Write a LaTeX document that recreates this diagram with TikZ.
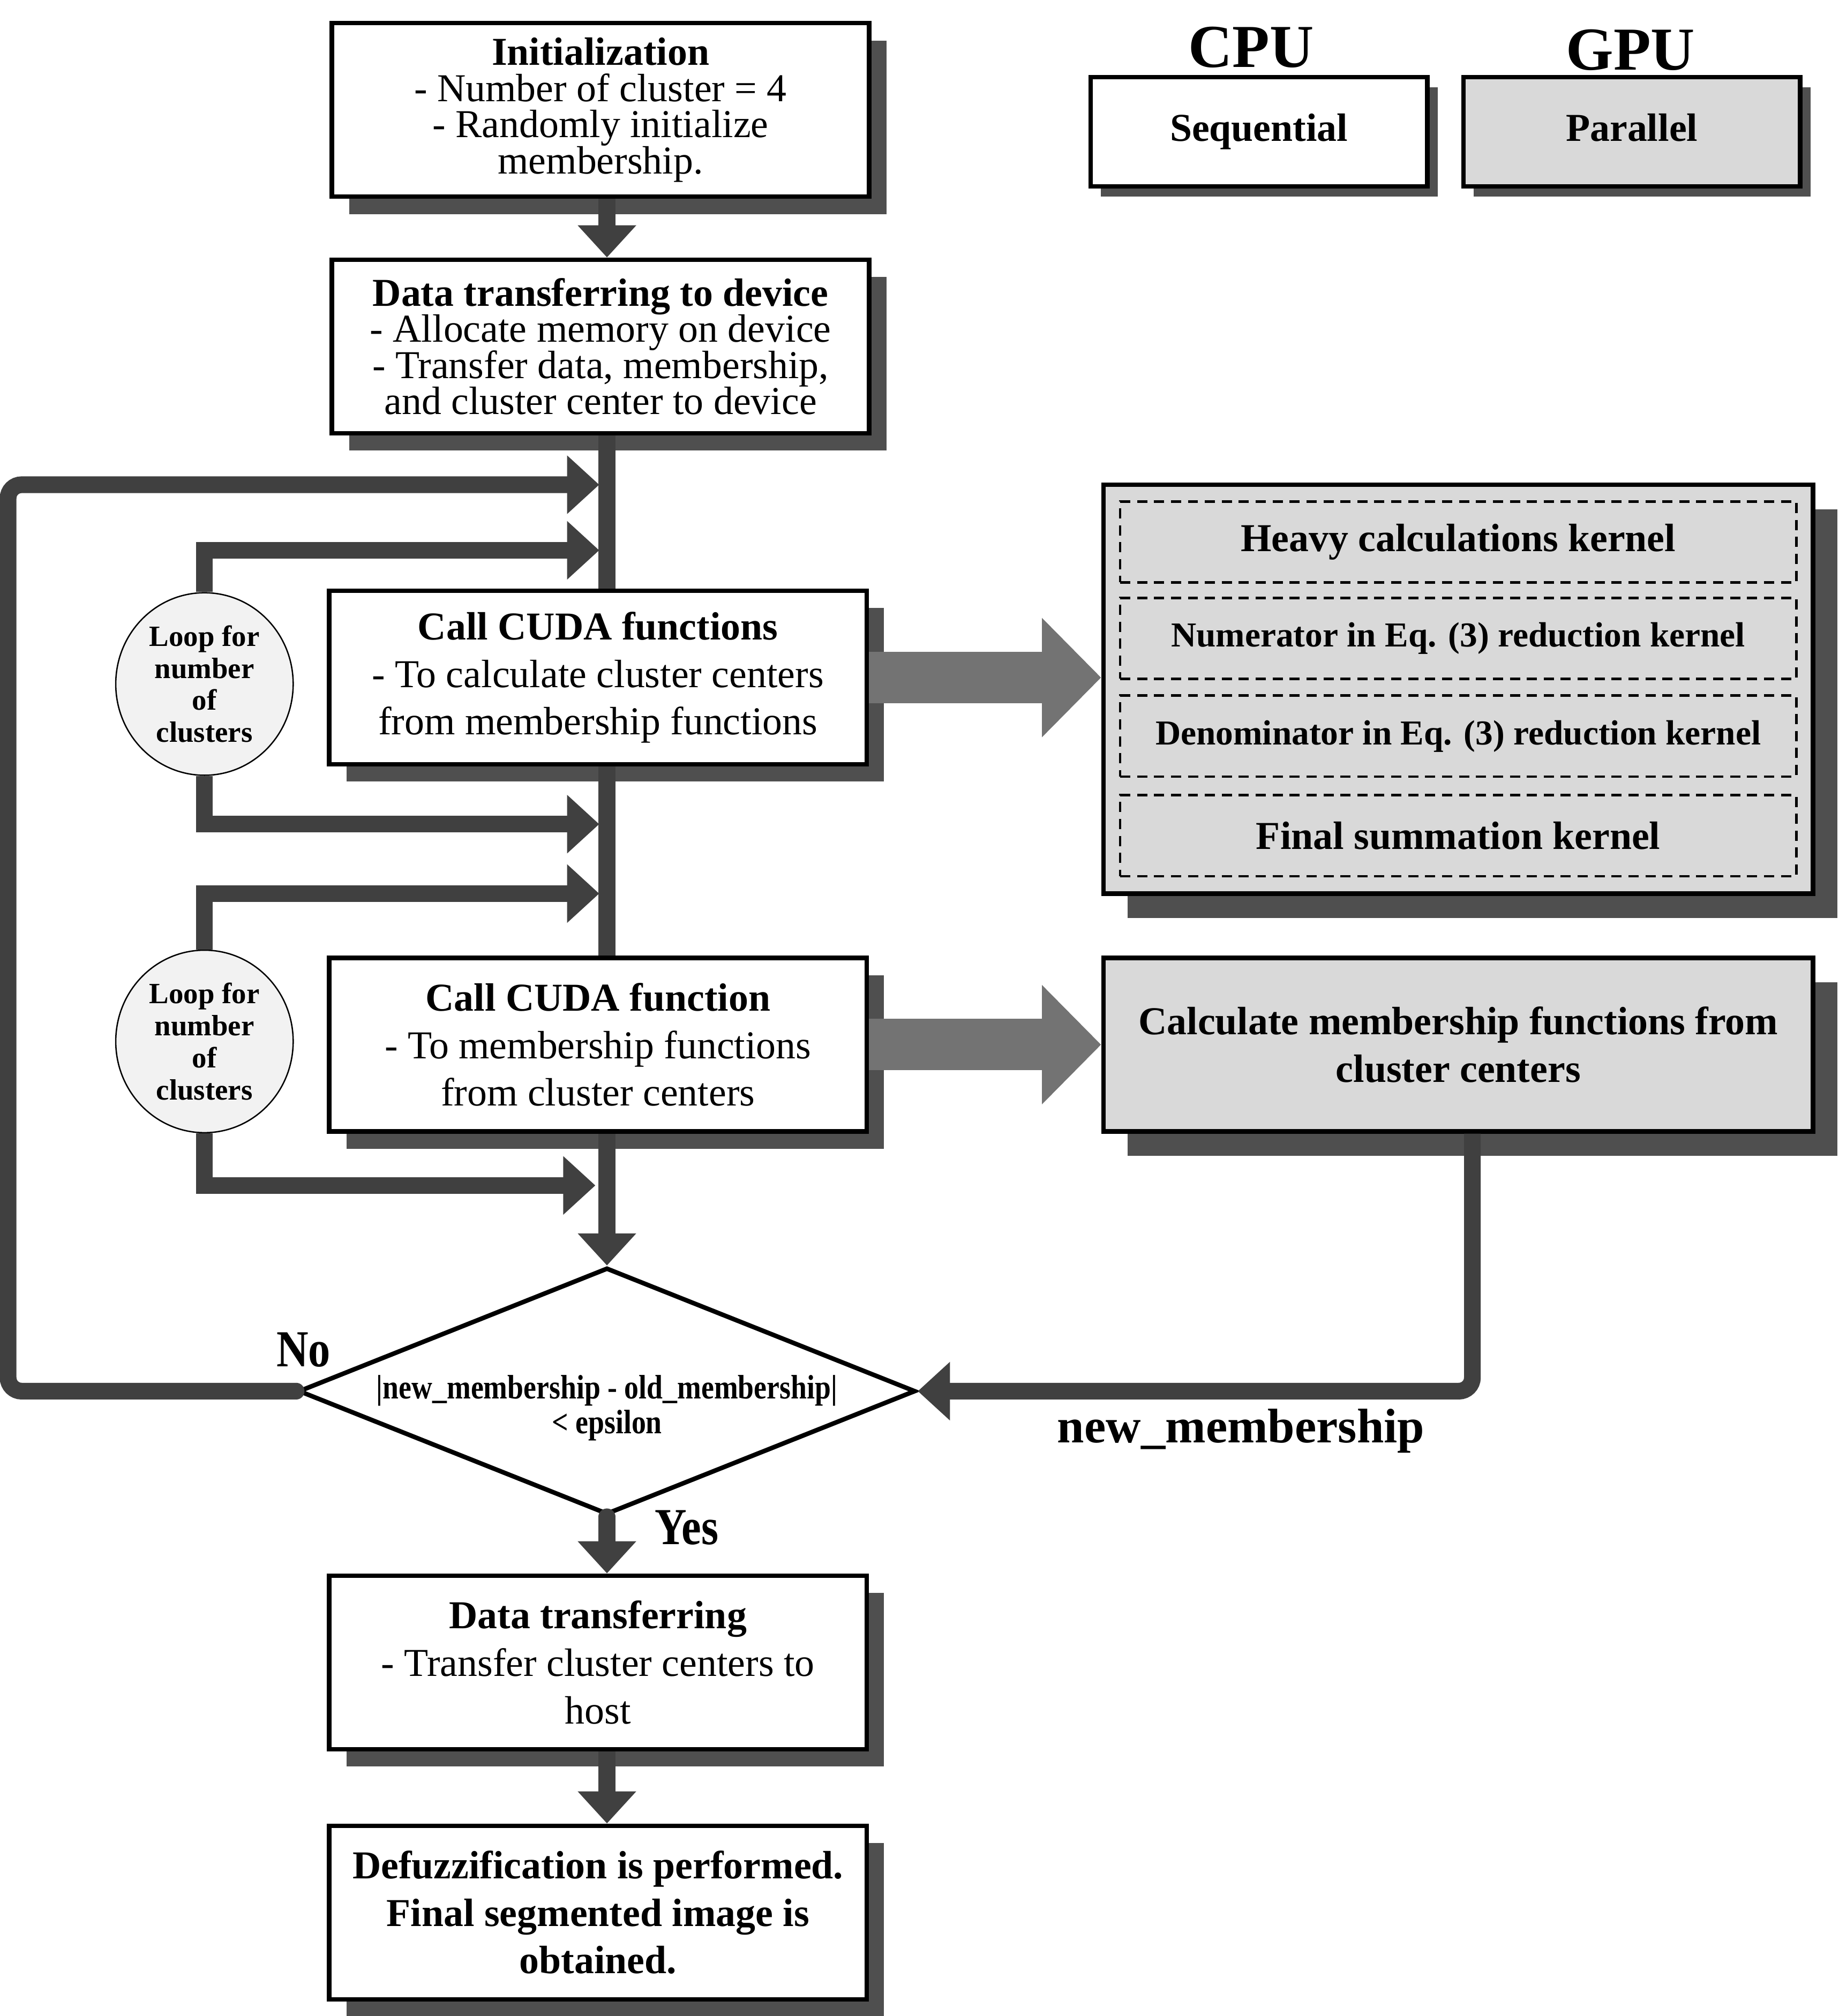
\documentclass[tikz,border=0pt]{standalone}
\usepackage{fontspec}
\setmainfont{Liberation Serif}
\newfontfamily\narrowserif[FakeStretch=0.85]{Liberation Serif}
\newcommand{\tightlines}{\lineskiplimit=-20pt\relax}
\usetikzlibrary{arrows.meta,shapes.geometric,shadows}

\begin{document}
\begin{tikzpicture}[x=0.02cm,y=-0.02cm,
    fcmShadow/.style={drop shadow={shadow xshift=#1,shadow yshift=-#1,fill=black!69,opacity=1}},
    fcmBox/.style={rectangle,draw=black,line width=2pt,fill=white,minimum width=8.36cm,minimum height=2.7cm,inner sep=0pt,align=center,font=\fontsize{17.5}{21}\selectfont},
    fcmStep/.style={fcmBox,fcmShadow=0.27cm},
    fcmTight/.style={font=\fontsize{17.5}{16}\selectfont\tightlines},
    fcmGpu/.style={fcmBox,fill=black!15,minimum width=11.04cm,font=\fontsize{17.5}{21}\selectfont\bfseries,fcmShadow=0.38cm},
    fcmLegend/.style={fcmBox,minimum width=5.24cm,minimum height=1.7cm,font=\fontsize{17.5}{21}\selectfont\bfseries,fcmShadow=0.16cm},
    fcmKernel/.style={rectangle,draw=black,dash pattern=on 4.5pt off 3pt,line width=1.1pt,minimum width=10.52cm,minimum height=1.26cm,inner sep=0pt,font=\fontsize{15.5}{18}\selectfont\bfseries},
    fcmLoop/.style={ellipse,draw=black,line width=0.6pt,fill=black!5,minimum width=2.76cm,minimum height=2.84cm,inner sep=0pt,align=center,font=\fontsize{13}{14.2}\selectfont\bfseries},
    fcmDecision/.style={diamond,draw=black,line width=2pt,fill=white,minimum width=9.6cm,minimum height=3.84cm,inner sep=0pt},
    fcmLine/.style={draw=black!75,line width=0.26cm},
    fcmLink/.style={fcmLine,-{Triangle[width=0.88cm,length=0.5cm]}},
    fcmBig/.style={draw=black!55,line width=0.8cm,-{Triangle[width=1.8cm,length=0.92cm]}},
    fcmTag/.style={font=\narrowserif\fontsize{23}{25}\selectfont\bfseries},
]
\useasboundingbox (0,0) rectangle (1430,1568);

% legend
\node[font=\fontsize{27}{30}\selectfont\bfseries] (cpuTitle) at (973,37) {CPU};
\node[font=\fontsize{27}{30}\selectfont\bfseries] (gpuTitle) at (1268,39) {GPU};
\node[fcmLegend] (seq) at (979,102.5) {\strut Sequential};
\node[fcmLegend,fill=black!15] (par) at (1269,102.5) {\strut Parallel};

% main flow (CPU)
\node[fcmStep,fcmTight] (init) at (467,85.5) {\textbf{Initialization}\\- Number of cluster = 4\\- Randomly initialize\\membership.};
\node[fcmStep,fcmTight] (xfer) at (467,269.5) {\textbf{Data transferring to device}\\- Allocate memory on device\\- Transfer data, membership,\\and cluster center to device};
\node[fcmStep] (cudaC) at (465,527) {\textbf{Call CUDA functions}\\- To calculate cluster centers\\from membership functions};
\node[fcmStep] (cudaU) at (465,812.5) {\textbf{Call CUDA function}\\- To membership functions\\from cluster centers};
\node[fcmDecision] (cond) at (472,1082) {};
\node[font=\narrowserif\fontsize{15}{15.5}\selectfont\bfseries,align=center] (condText) at (472,1095) {|new\_membership - old\_membership|\\< epsilon};
\node[fcmStep] (back) at (465,1293) {\textbf{Data transferring}\\- Transfer cluster centers to\\host};
\node[fcmStep,font=\fontsize{17.5}{21}\selectfont\bfseries] (defuzz) at (465,1487.5) {Defuzzification is performed.\\Final segmented image is\\obtained.};

% loops
\node[fcmLoop] (loopC) at (159,532) {Loop for\\number\\of\\clusters};
\node[fcmLoop] (loopU) at (159,810) {Loop for\\number\\of\\clusters};

% GPU side
\node[fcmGpu,minimum height=6.36cm] (kernels) at (1134,536) {};
\node[fcmKernel,font=\fontsize{17.5}{21}\selectfont\bfseries] (kHeavy) at (1134,421.5) {Heavy calculations kernel};
\node[fcmKernel] (kNum) at (1134,496.5) {Numerator in Eq. (3) reduction kernel};
\node[fcmKernel] (kDen) at (1134,572.5) {Denominator in Eq. (3) reduction kernel};
\node[fcmKernel,font=\fontsize{17.5}{21}\selectfont\bfseries] (kSum) at (1134,650) {Final summation kernel};
\node[fcmGpu] (calcM) at (1134,812.5) {Calculate membership functions from\\cluster centers};

% entry points on the spine
\coordinate (inA) at (466,377);
\coordinate (inB) at (466,428);
\coordinate (inC) at (466,641);
\coordinate (inD) at (466,695);
\coordinate (inE) at (463,922);

% connectors
\draw[fcmLink] (init.south -| cond.north) -- (xfer.north -| cond.north);
\draw[fcmLine] (xfer.south -| cond.north) -- (cudaC.north -| cond.north);
\draw[fcmLine] (cudaC.south -| cond.north) -- (cudaU.north -| cond.north);
\draw[fcmLink] (cudaU.south -| cond.north) -- (cond.north);
\draw[fcmLink,line cap=round] (cond.south) -- (cond.south |- back.north);
\draw[fcmLink] (back.south -| cond.north) -- (defuzz.north -| cond.north);
\draw[fcmLink,line cap=round,rounded corners=6pt] (cond.west) -- ++(-224,0) |- (inA);
\draw[fcmLink] (loopC.north) |- (inB);
\draw[fcmLink] (loopC.south) |- (inC);
\draw[fcmLink] (loopU.north) |- (inD);
\draw[fcmLink] (loopU.south) |- (inE);
\draw[fcmLink,rounded corners=6pt] ([xshift=0.22cm]calcM.south) |- (cond.east);
\draw[fcmBig] (cudaC.east) -- (cudaC.east -| kernels.west);
\draw[fcmBig] (cudaU.east) -- (calcM.west);

% labels
\node[fcmTag] (no) at (236,1050) {No};
\node[fcmTag] (yes) at (534,1188) {Yes};
\node[font=\fontsize{21.5}{24}\selectfont\bfseries] (newM) at (965,1113) {new\_membership};
\end{tikzpicture}
\end{document}
